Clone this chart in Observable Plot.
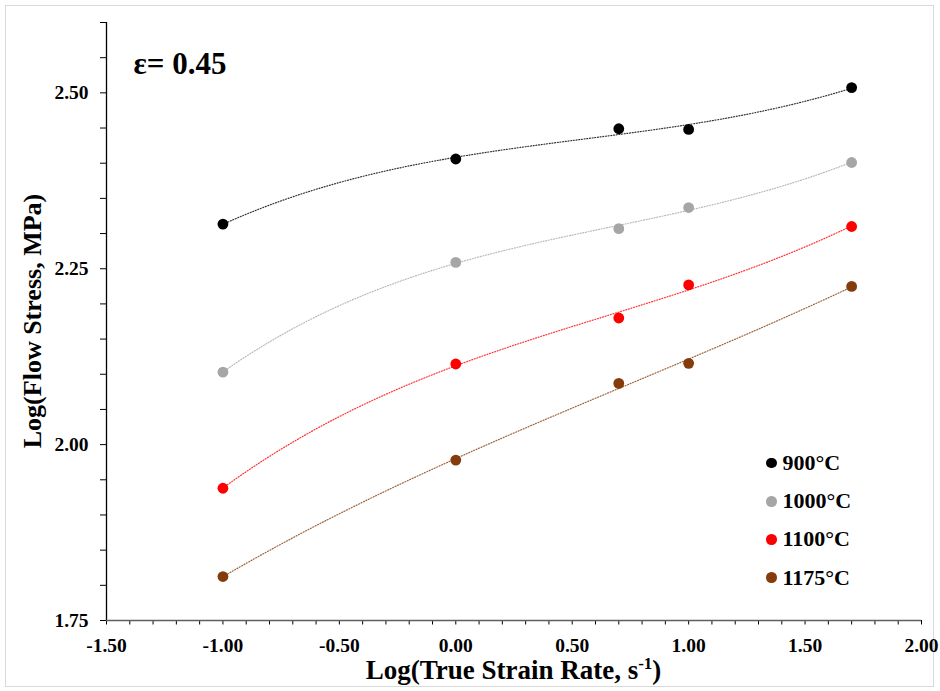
<!DOCTYPE html>
<html>
<head>
<meta charset="utf-8">
<script src="https://cdn.jsdelivr.net/npm/d3@7"></script>
<script src="https://cdn.jsdelivr.net/npm/@observablehq/plot@0.6"></script>
<style>
  html, body { margin: 0; padding: 0; background: #fff; }
  #wrap { position: relative; width: 940px; height: 691px; }
  #legend { position: absolute; left: 765px; top: 444px; font-family: "Liberation Serif", "Times New Roman", serif; font-weight: bold; font-size: 22px; color: #000; }
  #legend .row { display: flex; align-items: center; height: 38.2px; }
  #legend .sw { width: 10.5px; height: 10.5px; border-radius: 50%; margin-right: 6px; margin-left: 1px; }
</style>
</head>
<body>
<div id="wrap"></div>
<script>
// ---- data ----
const strainRates = [-1.0, 0.0, 0.7, 1.0, 1.7];          // Log(True Strain Rate, s^-1)
const temperatures = ["900°C", "1000°C", "1100°C", "1175°C"];
const stress900  = [2.3135, 2.406, 2.449, 2.448, 2.5075];  // Log(Flow Stress, MPa)
const stress1000 = [2.103, 2.259, 2.307, 2.337, 2.401];
const stress1100 = [1.938, 2.1146, 2.180, 2.227, 2.310];
const stress1175 = [1.8125, 1.978, 2.087, 2.1155, 2.2249];
const seriesColors = ["#000000", "#a6a6a6", "#ff0000", "#843c0c"];
const strainLabel = "ε= 0.45";
const xTicks = d3.range(-15, 21).map(i => i / 10);
const yTicks = d3.range(35, 53).map(i => i / 20);

const allStress = [stress900, stress1000, stress1100, stress1175];

// table of points
const points = [];
temperatures.forEach((t, k) => strainRates.forEach((x, i) => points.push({temp: t, x, y: allStress[k][i]})));

// polynomial (order 3) least-squares trendline, like a spreadsheet trendline
function polyfit(xs, ys, deg) {
  const n = deg + 1;
  const A = Array.from({length: n}, (_, i) => Array.from({length: n}, (_, j) => d3.sum(xs, x => Math.pow(x, i + j))));
  const b = Array.from({length: n}, (_, i) => d3.sum(xs, (x, k) => ys[k] * Math.pow(x, i)));
  for (let c = 0; c < n; c++) {
    let p = c;
    for (let r = c + 1; r < n; r++) if (Math.abs(A[r][c]) > Math.abs(A[p][c])) p = r;
    [A[c], A[p]] = [A[p], A[c]]; [b[c], b[p]] = [b[p], b[c]];
    for (let r = c + 1; r < n; r++) {
      const f = A[r][c] / A[c][c];
      for (let j = c; j < n; j++) A[r][j] -= f * A[c][j];
      b[r] -= f * b[c];
    }
  }
  const coef = new Array(n).fill(0);
  for (let r = n - 1; r >= 0; r--) {
    let s = b[r];
    for (let j = r + 1; j < n; j++) s -= A[r][j] * coef[j];
    coef[r] = s / A[r][r];
  }
  return x => coef.reduce((acc, c, i) => acc + c * Math.pow(x, i), 0);
}
const xMin = d3.min(strainRates), xMax = d3.max(strainRates);
const trend = [];
temperatures.forEach((t, k) => {
  const f = polyfit(strainRates, allStress[k], 3);
  for (let i = 0; i <= 150; i++) {
    const x = xMin + (xMax - xMin) * i / 150;
    trend.push({temp: t, x, y: f(x)});
  }
});

const color = {domain: temperatures, range: seriesColors};
const isMult = (d, s) => Math.abs(d / s - Math.round(d / s)) < 1e-6;

const chart = Plot.plot({
  width: 940,
  height: 691,
  marginLeft: 106,
  marginRight: 19,
  marginTop: 22,
  marginBottom: 71,
  style: {fontFamily: "'Liberation Serif', 'Times New Roman', serif", fontWeight: "bold", fontSize: "19.5px", color: "#000", background: "#fff"},
  x: {domain: [-1.5, 2.0]},
  y: {domain: [1.75, 2.6]},
  color,
  marks: [
    Plot.axisY({ticks: yTicks, tickSize: 6, tickPadding: 12, tickFormat: d => isMult(d, 0.25) ? d.toFixed(2) : "", label: null, stroke: "#000"}),
    Plot.axisX({ticks: xTicks, tickSize: 4.5, tickPadding: 13, tickFormat: d => isMult(d, 0.5) ? d.toFixed(2) : "", label: null, stroke: "#000"}),
    Plot.ruleX([-1.5], {stroke: "#000", strokeWidth: 1.3}),
    Plot.ruleY([1.75], {stroke: "#5f5f5f", strokeWidth: 1.6}),
    Plot.line(trend, {x: "x", y: "y", z: "temp", stroke: "temp", strokeWidth: 1.2, strokeDasharray: "1,1.7", strokeOpacity: 0.8}),
    Plot.dot(points, {x: "x", y: "y", fill: "temp", r: 5.4}),
    Plot.text([strainLabel], {frameAnchor: "top-left", dx: 27, dy: 41.5, lineAnchor: "middle", textAnchor: "start", fontSize: 31, fontWeight: "bold"})
  ]
});

// axis titles (with superscript) and outer frame
const svg = d3.select(chart);
svg.insert("rect", ":first-child")
  .attr("x", 5.5).attr("y", 5.5).attr("width", 928).attr("height", 681)
  .attr("fill", "#fff").attr("stroke", "#d9d9d9").attr("stroke-width", 1);
const xt = svg.append("text")
  .attr("x", 513.5).attr("y", 679).attr("text-anchor", "middle")
  .attr("font-size", 27).attr("font-weight", "bold").attr("fill", "#000");
xt.append("tspan").text("Log(True Strain Rate, s");
xt.append("tspan").attr("font-size", 17).attr("dy", -10).text("-1");
xt.append("tspan").attr("dy", 10).text(")");
svg.append("text")
  .attr("transform", "translate(41,321) rotate(-90)")
  .attr("text-anchor", "middle")
  .attr("font-size", 26).attr("font-weight", "bold").attr("fill", "#000")
  .text("Log(Flow Stress, MPa)");

const wrap = document.getElementById("wrap");
wrap.appendChild(chart);

// legend
const legend = document.createElement("div");
legend.id = "legend";
temperatures.forEach((t, k) => {
  const row = document.createElement("div");
  row.className = "row";
  const sw = document.createElement("span");
  sw.className = "sw";
  sw.style.background = seriesColors[k];
  const lab = document.createElement("span");
  lab.textContent = t;
  row.appendChild(sw); row.appendChild(lab);
  legend.appendChild(row);
});
wrap.appendChild(legend);
</script>
</body>
</html>
